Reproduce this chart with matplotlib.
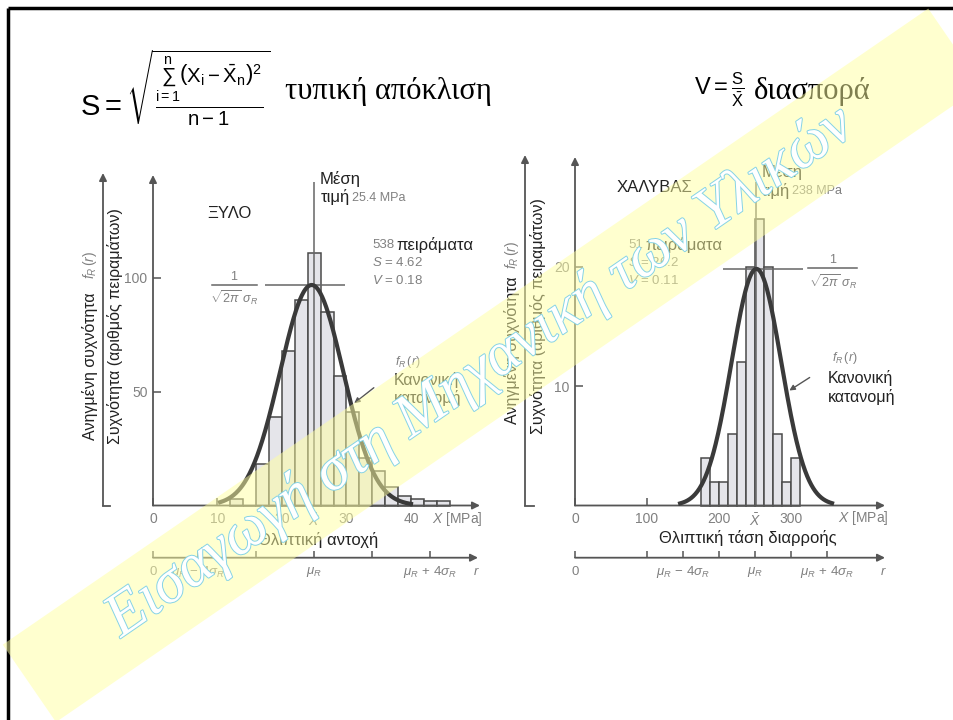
import numpy as np
import matplotlib
matplotlib.use("Agg")
import matplotlib.pyplot as plt
import matplotlib.patheffects as pe
from matplotlib.patches import Polygon

plt.rcParams['font.family'] = ['Liberation Sans', 'DejaVu Sans']
plt.rcParams['mathtext.fontset'] = 'custom'
plt.rcParams['mathtext.rm'] = 'Liberation Sans'
plt.rcParams['mathtext.it'] = 'Liberation Sans:italic'
plt.rcParams['mathtext.sf'] = 'Liberation Sans'

W, H = 954, 720
SERIF = ['Liberation Serif', 'DejaVu Serif']

# ---- data ----
# wood (ΞΥΛΟ), bins of 2 MPa starting at 12 MPa
wood_bin_start = 12
wood_bin_width = 2
wood_counts = [3, 0, 18, 39, 68, 90, 111, 85, 57, 41, 21, 15, 8, 4, 3, 2, 2]
wood_mean_line = 25.0
wood_fit_mu, wood_fit_sigma, wood_fit_peak = 24.6, 4.9, 96.8
wood_fit_range = (10.4, 40.0)
wood_xticks = [0, 10, 20, 25, 30, 40]
wood_xlabels = ['0', '10', '20', r'$\bar{X}$', '30', '40']
wood_yticks = [50, 100]
wood_rticks = [0, 7, 16, 25, 34, 43]
wood_rlabels = {0: '0', 7: r'$\mu_R\,-\,4\sigma_R$', 25: r'$\mu_R$', 43: r'$\mu_R\,+\,4\sigma_R$'}

# steel (ΧΑΛΥΒΑΣ), bins of 12.5 MPa starting at 175 MPa
steel_bin_start = 175
steel_bin_width = 12.5
steel_counts = [4, 2, 2, 6, 12, 20, 24, 20, 6, 2, 4]
steel_mean_line = 251
steel_fit_mu, steel_fit_sigma, steel_fit_peak = 252, 34.5, 19.8
steel_fit_range = (146, 357)
steel_xticks = [0, 100, 200, 250, 300]
steel_xlabels = ['0', '100', '200', r'$\bar{X}$', '300']
steel_yticks = [10, 20]
steel_rticks = [0, 100, 150, 200, 250, 300, 350]
steel_rlabels = {0: '0', 150: r'$\mu_R\,-\,4\sigma_R$', 250: r'$\mu_R$', 350: r'$\mu_R\,+\,4\sigma_R$'}

AX = '#555555'
GR = '#808080'
TX = '#222222'

fig = plt.figure(figsize=(W / 100, H / 100), dpi=100)
fig.patch.set_facecolor('white')


# chart axes laid out in picture pixels: rect (left, top, right, bottom), data origin pixel, px per unit
def panel(rect, origin, scale):
    x0, y0, x1, y1 = rect
    ox, oy = origin
    sx, sy = scale
    ax = fig.add_axes([x0 / W, 1 - y1 / H, (x1 - x0) / W, (y1 - y0) / H])
    ax.set_xlim((x0 - ox) / sx, (x1 - ox) / sx)
    ax.set_ylim((oy - y1) / sy, (oy - y0) / sy)
    ax.patch.set_alpha(0)
    for s in ax.spines.values():
        s.set_visible(False)
    ax.spines['bottom'].set_position(('data', 0))
    ax.spines['left'].set_position(('data', 0))
    px = lambda p: (p - ox) / sx
    py = lambda p: (oy - p) / sy
    return ax, px, py


def arrow(ax, a, b):
    ax.annotate('', xy=b, xytext=a,
                arrowprops=dict(arrowstyle='-|>', color=AX, lw=1.3, mutation_scale=11,
                                shrinkA=0, shrinkB=0))


def draw_hist(ax, px, py, start, width, counts, fit, frange, mean_line, peak_span,
              xticks, xlabels, yticks, rticks, rlabels, tips):
    edges = start + width * np.arange(len(counts))
    ax.bar(edges, counts, width=width, align='edge', color='#e5e5ea',
           edgecolor='#4a4a4a', linewidth=1.1, zorder=2)
    mu, sig, peak = fit
    xs = np.linspace(frange[0], frange[1], 300)
    ax.plot(xs, peak * np.exp(-(xs - mu) ** 2 / (2 * sig ** 2)), color='#3a3a3a', lw=3, zorder=4)
    # mean line and peak line
    ax.vlines(mean_line, 0, py(182), color='#666666', lw=1.1, zorder=3)
    ax.hlines(peak, peak_span[0], peak_span[1], color='#666666', lw=1.1, zorder=3)
    # axes
    xtip, ytip, outer_x, foot_x, rtip = tips
    arrow(ax, (0, 0), (px(xtip), 0))
    arrow(ax, (0, 0), (0, py(ytip)))
    arrow(ax, (px(outer_x), 0), (px(outer_x), py(ytip - 2)))
    ax.plot([px(outer_x), px(foot_x)], [0, 0], color=AX, lw=1.3)
    ax.set_xticks(xticks, xlabels)
    ax.set_yticks(yticks)
    ax.tick_params(axis='both', direction='in', length=6, color=AX, width=1.1,
                   labelcolor=GR, labelsize=10)
    ax.tick_params(axis='x', pad=5)
    ax.tick_params(axis='y', pad=4)
    # r axis
    yr = py(557.7)
    arrow(ax, (0, yr), (px(rtip), yr))
    ax.vlines(rticks, yr, py(551), color=AX, lw=1.1)
    for v, s in rlabels.items():
        ax.text(v, py(572), s, ha='center', va='center', color=GR, fontsize=9.5)
    ax.text(px(rtip - 2), py(572), r'$r$', ha='center', va='center', color=GR, fontsize=9.5)


axL, pxL, pyL = panel((60, 140, 490, 600), (153, 505.5), (6.45, 2.278))
draw_hist(axL, pxL, pyL, wood_bin_start, wood_bin_width, wood_counts,
          (wood_fit_mu, wood_fit_sigma, wood_fit_peak), wood_fit_range, wood_mean_line,
          (pxL(265), pxL(345)), wood_xticks, wood_xlabels, wood_yticks,
          wood_rticks, wood_rlabels, (480, 175, 103, 110, 478))

axR, pxR, pyR = panel((490, 140, 910, 600), (575, 505.5), (0.72, 11.95))
draw_hist(axR, pxR, pyR, steel_bin_start, steel_bin_width, steel_counts,
          (steel_fit_mu, steel_fit_sigma, steel_fit_peak), steel_fit_range, steel_mean_line,
          (pxR(723), pxR(803)), steel_xticks, steel_xlabels, steel_yticks,
          steel_rticks, steel_rlabels, (885, 157, 525, 534, 885))

# overlay in pixel coordinates for free text, band and watermark
ov = fig.add_axes([0, 0, 1, 1], zorder=10)
ov.set_xlim(0, W)
ov.set_ylim(H, 0)
ov.axis('off')
ov.patch.set_alpha(0)


def t(x, y, s, **kw):
    kw.setdefault('ha', 'left')
    kw.setdefault('va', 'center')
    kw.setdefault('color', TX)
    kw.setdefault('fontsize', 11.5)
    return ov.text(x, y, s, **kw)


# slide frame
ov.plot([8, W], [8, 8], color='black', lw=2.5, solid_capstyle='butt')
ov.plot([8, 8], [8, H], color='black', lw=2.5, solid_capstyle='butt')

# formulas
t(80, 88, r'$\mathrm{S} = \sqrt{\frac{\sum_{\mathrm{i=1}}^{\mathrm{n}}\left(\mathrm{X_i} - \bar{\mathrm{X}}_\mathrm{n}\right)^2}{\mathrm{n}-1}}$',
  fontsize=21, color='black')
t(285, 92, 'τυπική απόκλιση', family=SERIF, fontsize=22, color='black')
t(694, 90, r'$\mathrm{V} = \frac{\mathrm{S}}{\bar{\mathrm{X}}}$', fontsize=17, color='black')
t(754, 92, 'διασπορά', family=SERIF, fontsize=22, color='black')

# left panel text
t(90, 366, 'Ανηγμένη συχνότητα', rotation=90, ha='center')
t(90, 265, r'$f_R\,(r)$', rotation=90, ha='center', color=GR, fontsize=10)
t(115, 326, 'Συχνότητα (αριθμός πειραμάτων)', rotation=90, ha='center')
t(207, 213, 'ΞΥΛΟ', fontsize=12)
t(320, 179, 'Μέση', fontsize=12)
t(321, 197, 'τιμή', fontsize=12)
t(352, 198, '25.4 MPa', color=GR, fontsize=9)
t(372, 245, '538', color=GR, fontsize=9.5)
t(396, 245, 'πειράματα', fontsize=12)
t(372, 263, r'$S$ = 4.62', color=GR, fontsize=9.5)
t(372, 281, r'$V$ = 0.18', color=GR, fontsize=9.5)
ov.plot([212, 257], [285, 285], color='#666666', lw=1.1)
t(234, 277, '1', ha='center', color=GR, fontsize=9)
t(234, 298, r'$\sqrt{2\pi}\ \sigma_R$', ha='center', color=GR, fontsize=9)
t(395, 362, r'$f_R\,(r)$', color=GR, fontsize=9)
t(394, 380, 'Κανονική')
t(394, 398, 'κατανομή')
ov.annotate('', xy=(352, 405), xytext=(376, 386),
            arrowprops=dict(arrowstyle='-|>', color='#555555', lw=1, mutation_scale=8))
t(457, 519, r'$X$ [MPa]', ha='center', color=GR, fontsize=10)
t(318, 540, 'Θλιπτική αντοχή', ha='center', fontsize=12)

# right panel text
t(512, 350, 'Ανηγμένη συχνότητα', rotation=90, ha='center')
t(512, 255, r'$f_R\,(r)$', rotation=90, ha='center', color=GR, fontsize=10)
t(538, 316, 'Συχνότητα (αριθμός πειραμάτων)', rotation=90, ha='center')
t(617, 187, 'ΧΑΛΥΒΑΣ', fontsize=12)
t(762, 172, 'Μέση', fontsize=12)
t(761, 191, 'τιμή', fontsize=12)
t(792, 191, '238 MPa', color=GR, fontsize=9)
t(628, 245, '51', color=GR, fontsize=9.5)
t(645, 245, 'πειράματα', fontsize=12)
t(628, 263, r'$S$ = 26.2', color=GR, fontsize=9.5)
t(628, 280, r'$V$ = 0.11', color=GR, fontsize=9.5)
ov.plot([808, 857], [268, 268], color='#666666', lw=1.1)
t(833, 260, '1', ha='center', color=GR, fontsize=9)
t(833, 282, r'$\sqrt{2\pi}\ \sigma_R$', ha='center', color=GR, fontsize=9)
t(832, 358, r'$f_R\,(r)$', color=GR, fontsize=9)
t(828, 378, 'Κανονική')
t(828, 397, 'κατανομή')
ov.annotate('', xy=(787, 392), xytext=(812, 376),
            arrowprops=dict(arrowstyle='-|>', color='#555555', lw=1, mutation_scale=8))
t(863, 518, r'$X$ [MPa]', ha='center', color=GR, fontsize=10)
t(748, 538, 'Θλιπτική τάση διαρροής', ha='center', fontsize=12)

# pale yellow diagonal band
ang = np.deg2rad(34.5)
cx, cy = 481, 373
u = np.array([np.cos(ang), -np.sin(ang)])
n = np.array([-np.sin(ang), -np.cos(ang)])
c = np.array([cx, cy])
hw = 47
a0, a1 = -548, 575
corners = [c + a0 * u + hw * n, c + a1 * u + hw * n, c + a1 * u - hw * n, c + a0 * u - hw * n]
ov.add_patch(Polygon(corners, closed=True, facecolor='#ffffa0', alpha=0.5,
                     edgecolor='none', zorder=5))

wm = ov.text(489, 385, 'Εισαγωγή στη Μηχανική των Υλικών', rotation=34.5,
             rotation_mode='anchor', ha='center', va='baseline',
             family=SERIF, style='italic', fontsize=44, color='white', zorder=6)
wm.set_path_effects([pe.Stroke(linewidth=1.4, foreground='#86d3e6'), pe.Normal()])

fig.savefig('out.png', dpi=100, facecolor='white')
